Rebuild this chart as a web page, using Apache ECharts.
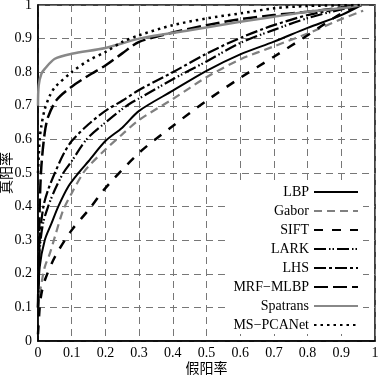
<!DOCTYPE html>
<html>
<head>
<meta charset="utf-8">
<script src="https://cdn.jsdelivr.net/npm/echarts@6/dist/echarts.min.js"></script>
<style>
  html, body { margin: 0; padding: 0; background: #fff; }
  #main { width: 379px; height: 377px; }
</style>
</head>
<body>
<div id="main"></div>
<script>
// ROC curves, points are [假阳率, 真阳率]
var names = ['LBP', 'Gabor', 'SIFT', 'LARK', 'LHS', 'MRF\u2212MLBP', 'Spatrans', 'MS\u2212PCANet'];
var ticks = [0, 0.1, 0.2, 0.3, 0.4, 0.5, 0.6, 0.7, 0.8, 0.9, 1];

var lbp = [[0,0.1],[0.005,0.22],[0.02,0.3],[0.04,0.35],[0.06,0.4],[0.09,0.46],[0.12,0.5],[0.15,0.535],[0.2,0.595],[0.25,0.635],[0.3,0.685],[0.4,0.745],[0.5,0.804],[0.6,0.853],[0.7,0.891],[0.8,0.932],[0.9,0.97],[0.96,1]];
var gabor = [[0,0.1],[0.005,0.14],[0.01,0.17],[0.02,0.22],[0.035,0.26],[0.05,0.31],[0.075,0.39],[0.1,0.44],[0.134,0.5],[0.15,0.52],[0.2,0.57],[0.25,0.615],[0.3,0.658],[0.4,0.72],[0.5,0.785],[0.6,0.838],[0.7,0.877],[0.8,0.915],[0.9,0.958],[0.965,0.983]];
var sift = [[0,0.02],[0.005,0.1],[0.01,0.14],[0.02,0.18],[0.05,0.25],[0.1,0.33],[0.15,0.39],[0.2,0.455],[0.3,0.56],[0.4,0.64],[0.5,0.715],[0.6,0.783],[0.7,0.846],[0.8,0.91],[0.9,0.975],[0.96,1]];
var lark = [[0,0.1],[0.005,0.27],[0.015,0.35],[0.03,0.4],[0.05,0.45],[0.075,0.5],[0.1,0.535],[0.144,0.6],[0.2,0.65],[0.263,0.7],[0.3,0.722],[0.4,0.779],[0.5,0.832],[0.6,0.887],[0.7,0.926],[0.8,0.961],[0.9,0.987],[0.96,1]];
var lhs = [[0,0.1],[0.005,0.3],[0.016,0.4],[0.03,0.45],[0.05,0.5],[0.075,0.555],[0.1,0.595],[0.15,0.645],[0.2,0.685],[0.25,0.715],[0.3,0.747],[0.4,0.8],[0.5,0.855],[0.6,0.902],[0.7,0.94],[0.8,0.97],[0.9,0.99],[0.96,1]];
var mrf = [[0,0.1],[0.005,0.4],[0.01,0.52],[0.02,0.62],[0.03,0.667],[0.055,0.717],[0.1,0.757],[0.15,0.79],[0.2,0.82],[0.25,0.856],[0.3,0.89],[0.4,0.918],[0.5,0.94],[0.6,0.958],[0.7,0.97],[0.8,0.98],[0.96,1]];
var spatrans = [[0,0.7],[0.002,0.76],[0.01,0.795],[0.02,0.81],[0.05,0.84],[0.1,0.855],[0.2,0.872],[0.3,0.9],[0.45,0.925],[0.6,0.95],[0.7,0.965],[0.8,0.98],[0.9,0.99],[0.96,1]];
var pcanet = [[0,0.5],[0.005,0.6],[0.01,0.64],[0.02,0.69],[0.035,0.73],[0.05,0.755],[0.1,0.8],[0.15,0.835],[0.2,0.86],[0.25,0.89],[0.3,0.91],[0.4,0.94],[0.5,0.96],[0.6,0.975],[0.7,0.99],[0.8,0.997],[0.96,1]];

var serif = '"Liberation Serif", "DejaVu Serif", serif';
var cjk = '"Noto Sans CJK SC", sans-serif';

function mk(name, data, color, width, dash) {
  return {
    name: name,
    type: 'line',
    data: data,
    smooth: 0.3,
    showSymbol: false,
    symbol: 'none',
    lineStyle: { color: color, width: width, type: dash },
    itemStyle: { color: color }
  };
}

var chart = echarts.init(document.getElementById('main'));
var option = {
  backgroundColor: '#fff',
  animation: false,
  grid: {
    left: 38, right: 4, top: 5, bottom: 36,
    containLabel: false, outerBoundsMode: 'none',
    show: true, borderColor: '#000', borderWidth: 1.5
  },
  legend: {
    data: names,
    orient: 'vertical',
    right: 16,
    top: 183,
    align: 'right',
    itemWidth: 44,
    itemHeight: 14,
    itemGap: 5,
    padding: [2, 4, 2, 8],
    backgroundColor: '#fff',
    itemStyle: { opacity: 0 },
    textStyle: { fontFamily: serif, fontSize: 14, color: '#000' }
  },
  xAxis: {
    type: 'value', min: 0, max: 1, interval: 0.1,
    name: '假阳率', nameLocation: 'middle', nameGap: 20, nameMoveOverlap: false,
    nameTextStyle: { fontFamily: cjk, fontSize: 14, color: '#000' },
    axisLine: { lineStyle: { color: '#000', width: 1.5 } },
    axisTick: { show: false },
    axisLabel: { fontFamily: serif, fontSize: 14, color: '#000', margin: 5,
      formatter: function (v) { return ticks.indexOf(Math.round(v * 10) / 10) >= 0 ? String(Math.round(v * 10) / 10) : ''; } },
    splitLine: { lineStyle: { color: '#777', type: [7, 5], width: 1 } }
  },
  yAxis: {
    type: 'value', min: 0, max: 1, interval: 0.1,
    name: '真阳率', nameLocation: 'middle', nameGap: 25, nameMoveOverlap: false,
    nameTextStyle: { fontFamily: cjk, fontSize: 14, color: '#000' },
    axisLine: { lineStyle: { color: '#000', width: 1.5 } },
    axisTick: { show: false },
    axisLabel: { fontFamily: serif, fontSize: 14, color: '#000', margin: 6,
      formatter: function (v) { return String(Math.round(v * 10) / 10); } },
    splitLine: { lineStyle: { color: '#777', type: [7, 5], width: 1 } }
  },
  series: [
    mk(names[0], lbp, '#000', 2, 'solid'),
    mk(names[1], gabor, '#808080', 2.2, [8, 5]),
    mk(names[2], sift, '#000', 2.5, [9, 9]),
    mk(names[3], lark, '#000', 2.2, [12, 3, 1.5, 2, 1.5, 3]),
    mk(names[4], lhs, '#000', 2.2, [12, 3, 3, 3]),
    mk(names[5], mrf, '#000', 2.5, [14, 5]),
    mk(names[6], spatrans, '#888', 2.5, 'solid'),
    mk(names[7], pcanet, '#000', 2.5, [2.5, 4])
  ]
};
chart.setOption(option);
</script>
</body>
</html>
